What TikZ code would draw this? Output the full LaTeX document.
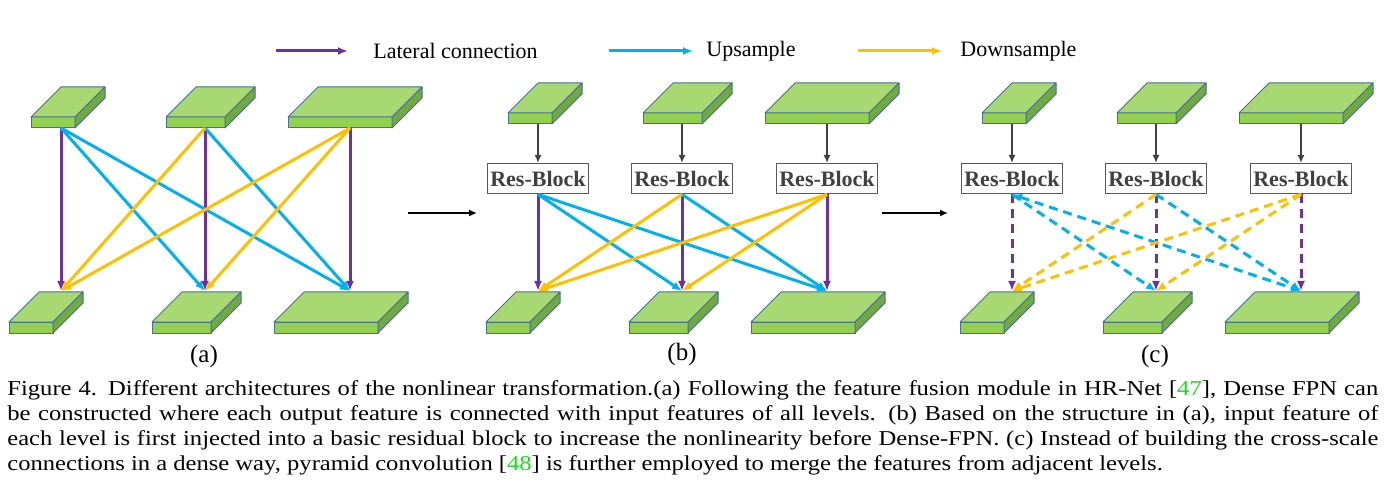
\documentclass[tikz,border=0pt]{standalone}
\usepackage{fontspec}
\setmainfont{Liberation Serif}
\newfontfamily\capfont[FakeStretch=1.16]{Liberation Serif}
\usetikzlibrary{arrows.meta,positioning}
\definecolor{lat}{RGB}{112,48,160}
\definecolor{up}{RGB}{0,176,240}
\definecolor{down}{RGB}{255,192,0}
\definecolor{gtop}{RGB}{168,216,114}
\definecolor{gfront}{RGB}{146,208,80}
\definecolor{gside}{RGB}{112,168,66}
\definecolor{gedge}{RGB}{70,110,150}
\definecolor{citegreen}{RGB}{30,220,30}
% feature map slab: name, front bottom left x, y, width
\newcommand{\slab}[4]{%
\path (#2,#3) coordinate (#1);
\draw[slabline,fill=gfront] (#2,#3) rectangle ++(#4,-11);
\draw[slabline,fill=gtop] (#2,#3-11) -- ++(30,-30) -- ++(#4,0) -- ++(-30,30) -- cycle;
\draw[slabline,fill=gside] (#2+#4,#3) -- ++(0,-11) -- ++(30,-30) -- ++(0,11) -- cycle;}
\begin{document}
\begin{tikzpicture}[x=0.5pt,y=-0.5pt,
conn/.style={line width=1.5pt,-{Latex[length=5pt,width=4pt]}},
feed/.style={line width=1.1pt,draw=black!75,-{Latex[length=4pt,width=3.5pt]}},
plain/.style={},
dashline/.style={dash pattern=on 4.5pt off 3pt},
tipc13/.style={{Latex[length=5pt,width=4pt]}-{Latex[length=5pt,width=4pt]}},
slabline/.style={draw=gedge,line width=0.5pt,line join=round},
resblock/.style={draw=black!65,line width=0.7pt,fill=white,text=black!75,font=\bfseries\fontsize{11}{13}\selectfont,minimum width=50.5pt,minimum height=15pt,inner sep=0pt},
lbl/.style={font=\fontsize{11}{13}\selectfont},
sub/.style={font=\fontsize{12.5}{14}\selectfont}]
\useasboundingbox (0,0) rectangle (1397,502);
% legend
\coordinate (l1a) at (276,51); \coordinate (l1b) at (348,51);
\coordinate (l2a) at (609,51); \coordinate (l2b) at (693,51);
\coordinate (l3a) at (858,51); \coordinate (l3b) at (942,51);
\draw[conn,lat] (l1a) -- (l1b);
\draw[conn,up] (l2a) -- (l2b);
\draw[conn,down] (l3a) -- (l3b);
\node[lbl,inner sep=0,right=12.5pt of l1b] (l1t) {Lateral connection};
\node[lbl,inner sep=0,right=6.5pt of l2b] (l2t) {Upsample};
\node[lbl,inner sep=0,right=9pt of l3b] (l3t) {Downsample};
% slabs
\foreach \p/\dx/\ty in {a/0/128,b/477/124,c/951/124}{
\foreach \i/\cx/\ol/\ob/\w in {1/61/30/52/44,2/205/39/53/59,3/350/62/76/104}{
\slab{\p-in-\i}{\cx+\dx-\ol}{\ty}{\w}
\slab{\p-out-\i}{\cx+\dx-\ob}{333}{\w}
\coordinate (\p-e-\i) at (\cx+\dx,291);
\coordinate (\p-t-\i) at (\cx+\dx,\ty);
}}
\foreach \i in {1,2,3} \coordinate (a-s-\i) at (a-t-\i);
% res-blocks
\foreach \p in {b,c}{
\foreach \i in {1,2,3}{
\node[resblock,below=19.5pt of \p-t-\i] (\p-rb-\i) {Res-Block};
\draw[feed] (\p-t-\i) -- (\p-rb-\i);
\coordinate (\p-s-\i) at (\p-rb-\i.south);
}}
% connections
\foreach \p/\st in {a/plain,b/plain,c/dashline}{
\foreach \i/\j/\col in {1/1/lat,2/2/lat,3/3/lat,1/2/up,1/3/up,2/3/up,2/1/down,3/1/down,3/2/down}
\draw[conn,\col,\st,tip\p\i\j/.try] (\p-s-\i) -- (\p-e-\j);
}
% between panels
\coordinate (ab1) at (408,213); \coordinate (ab2) at (477,213);
\coordinate (bc1) at (882,213); \coordinate (bc2) at (948,213);
\draw[line width=1pt,-{Latex[length=4pt,width=3.5pt]}] (ab1) -- (ab2);
\draw[line width=1pt,-{Latex[length=4pt,width=3.5pt]}] (bc1) -- (bc2);
\node[sub] (la) at (204,356) {(a)};
\node[sub] (lb) at (682,354) {(b)};
\node[sub] (lc) at (1155,356) {(c)};
% caption
\node[anchor=north west,inner sep=0,text width=685.5pt,align=justify,font=\capfont\fontsize{10.6}{12.5}\selectfont] (cap) at (7,380)
{Figure 4. Different architectures of the nonlinear transformation.(a) Following the feature fusion module in HR-Net [\textcolor{citegreen}{47}], Dense FPN can\linebreak
be constructed where each output feature is connected with input features of all levels.  (b) Based on the structure in (a), input feature of\linebreak
each level is first injected into a basic residual block to increase the nonlinearity before Dense-FPN. (c) Instead of building the cross-scale\linebreak
connections in a dense way, pyramid convolution [\textcolor{citegreen}{48}] is further employed to merge the features from adjacent levels.};
\end{tikzpicture}
\end{document}
